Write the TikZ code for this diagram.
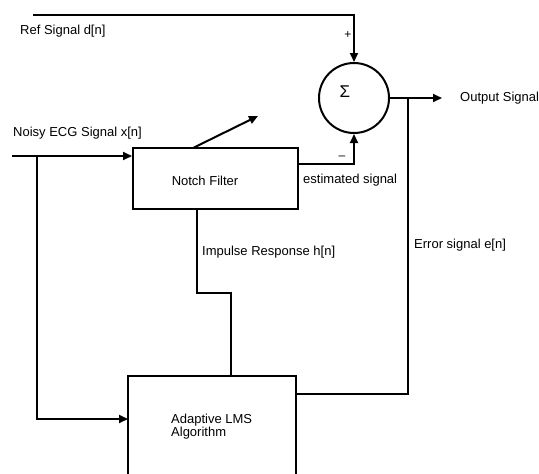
\documentclass[tikz,border=0pt]{standalone}
\usepackage{fontspec}
\setmainfont{Liberation Sans}
\usetikzlibrary{arrows.meta}
\begin{document}
\begin{tikzpicture}[x=1pt,y=-1pt,
  wire/.style={line width=2pt},
  sig/.style={wire,-{Triangle[length=9pt,width=8pt]}},
  blk/.style={draw,line width=2pt,minimum width=165pt,minimum height=61pt,inner sep=0pt},
  lbl/.style={font=\fontsize{13}{15}\selectfont,inner sep=0pt,anchor=west}]
\useasboundingbox (0,0) rectangle (539,474);
% blocks
\node[blk] (nf) at (215.5,178.5) {};
\node[font=\fontsize{13}{15}\selectfont] (nft) at (205,181) {Notch Filter};
\draw[wire] (296,474) -- (296,376) coordinate (lmsTR) -- (128,376) coordinate (lmsTL) -- (128,474);
\node[lbl] (lmst) at (171,427) {\begin{tabular}{@{}l@{}}Adaptive LMS\\[-2pt]Algorithm\end{tabular}};
\coordinate (lmsW) at (128,419);
\coordinate (lmsE) at (296,394);
% summer
\node[draw,circle,line width=2pt,minimum size=70pt,inner sep=0pt] (sum) at (354,98) {};
\node[font=\fontsize{17}{19}\selectfont] (sig) at (345,92) {Σ};
% ref signal
\coordinate (refS) at (33,15);
\coordinate (refC) at (354,15);
\draw[sig] (refS) -- (refC) -- (sum.north);
\node[lbl] (reft) at (20,31) {Ref Signal d[n]};
\node[font=\fontsize{12}{14}\selectfont] (plus) at (348,35) {+};
% noisy input
\coordinate (inS) at (12,156);
\coordinate (br) at (37,156);
\draw[sig] (inS) -- (nf.west |- inS);
\draw[sig] (br) -- (br |- lmsW) -- (lmsW);
\node[lbl] (noisyt) at (13,133) {Noisy ECG Signal x[n]};
% adaptation arrow
\coordinate (adA) at (193,148);
\coordinate (adB) at (258,116);
\draw[wire,-{Triangle[length=9pt,width=8pt]}] (adA) -- (adB);
% estimated signal
\coordinate (es) at (298,164);
\draw[sig] (es) -- (es -| sum.south) -- (sum.south);
\node[lbl] (estt) at (303,180) {estimated signal};
\node[font=\fontsize{12}{14}\selectfont] (minus) at (342,158) {–};
% output
\coordinate (outE) at (442,98);
\draw[sig] (sum.east) -- (outE);
\node[lbl] (outt) at (460,98) {Output Signal};
% impulse response
\coordinate (ir1) at (197,293);
\coordinate (ir2) at (231,293);
\draw[wire] (nf.south -| ir1) -- (ir1) -- (ir2) -- (ir2 |- lmsTL);
\node[lbl] (irt) at (202,252) {Impulse Response h[n]};
% error
\coordinate (er) at (408,98);
\draw[wire] (lmsE) -- (er |- lmsE) -- (er);
\node[lbl] (ert) at (414,245) {Error signal e[n]};
\end{tikzpicture}
\end{document}
